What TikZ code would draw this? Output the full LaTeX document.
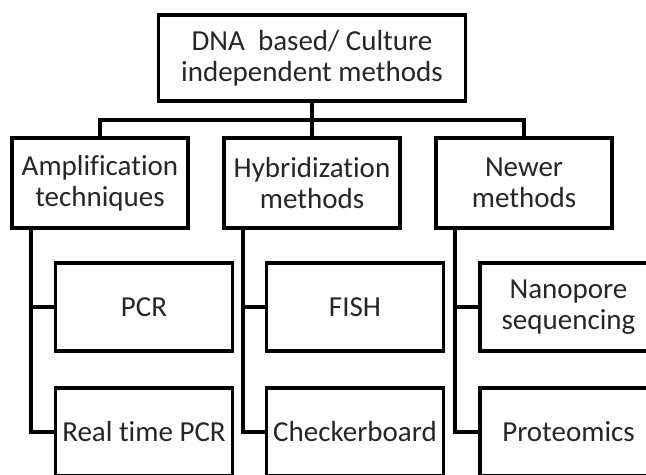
\documentclass[tikz,border=0pt]{standalone}
\usepackage{fontspec}
\setmainfont{Carlito}[Ligatures={TeX,NoCommon}]
\usepackage{tikz}
\usetikzlibrary{calc}
\definecolor{dnaink}{HTML}{262626}
\definecolor{dnaline}{HTML}{000000}
\newcommand{\dnafont}{\fontsize{33}{35.3}\selectfont}

\begin{document}
\begin{tikzpicture}[
    every node/.style={font=\dnafont, text=dnaink},
    root/.style={rectangle, draw=dnaline, fill=white, align=center, inner sep=0pt,
                 minimum width=12.28cm, minimum height=3.44cm, line width=4.5pt},
    box/.style ={rectangle, draw=dnaline, fill=white, align=center, inner sep=0pt,
                 minimum width=7.04cm, minimum height=3.60cm, line width=4.5pt},
    leaf/.style={rectangle, draw=dnaline, fill=white, align=center, inner sep=0pt,
                 minimum width=7.08cm, minimum height=3.52cm, line width=4.5pt},
    link/.style={draw=dnaline, line width=4.5pt},
  ]

  \useasboundingbox (0,0) rectangle (25.84,-18.96);
  \clip (0,0) rectangle (25.84,-18.96);

  \node[root] (ROOT) at (12.48,-2.32) {DNA\ \ based/ Culture\\independent methods};

  \node[box] (AMP) at (4.00,-7.32)  {Amplification\\techniques};
  \node[box] (HYB) at (12.48,-7.32) {Hybridization\\methods};
  \node[box] (NEW) at (20.96,-7.32) {Newer\\methods};

  \node[leaf] (PCR)   at (5.76,-12.28)  {PCR};
  \node[leaf] (RTPCR) at (5.76,-17.28)  {Real time PCR};
  \node[leaf] (FISH)  at (14.20,-12.28) {FISH};
  \node[leaf] (CHECK) at (14.20,-17.28) {Checkerboard};
  \node[leaf] (NANO)  at (22.74,-12.28) {Nanopore\\sequencing};
  \node[leaf] (PROT)  at (22.74,-17.28) {Proteomics};

  \coordinate (BUS) at (12.48,-4.80);

  \draw[link] (ROOT.south) -- (BUS);
  \draw[link] (AMP.north) |- (BUS) -| (NEW.north);
  \draw[link] (BUS) -- (HYB.north);

  \draw[link] ([xshift=0.85cm]AMP.south west) |- (PCR.west);
  \draw[link] ([xshift=0.85cm]AMP.south west) |- (RTPCR.west);
  \draw[link] ([xshift=0.85cm]HYB.south west) |- (FISH.west);
  \draw[link] ([xshift=0.85cm]HYB.south west) |- (CHECK.west);
  \draw[link] ([xshift=0.85cm]NEW.south west) |- (NANO.west);
  \draw[link] ([xshift=0.85cm]NEW.south west) |- (PROT.west);

\end{tikzpicture}
\end{document}
